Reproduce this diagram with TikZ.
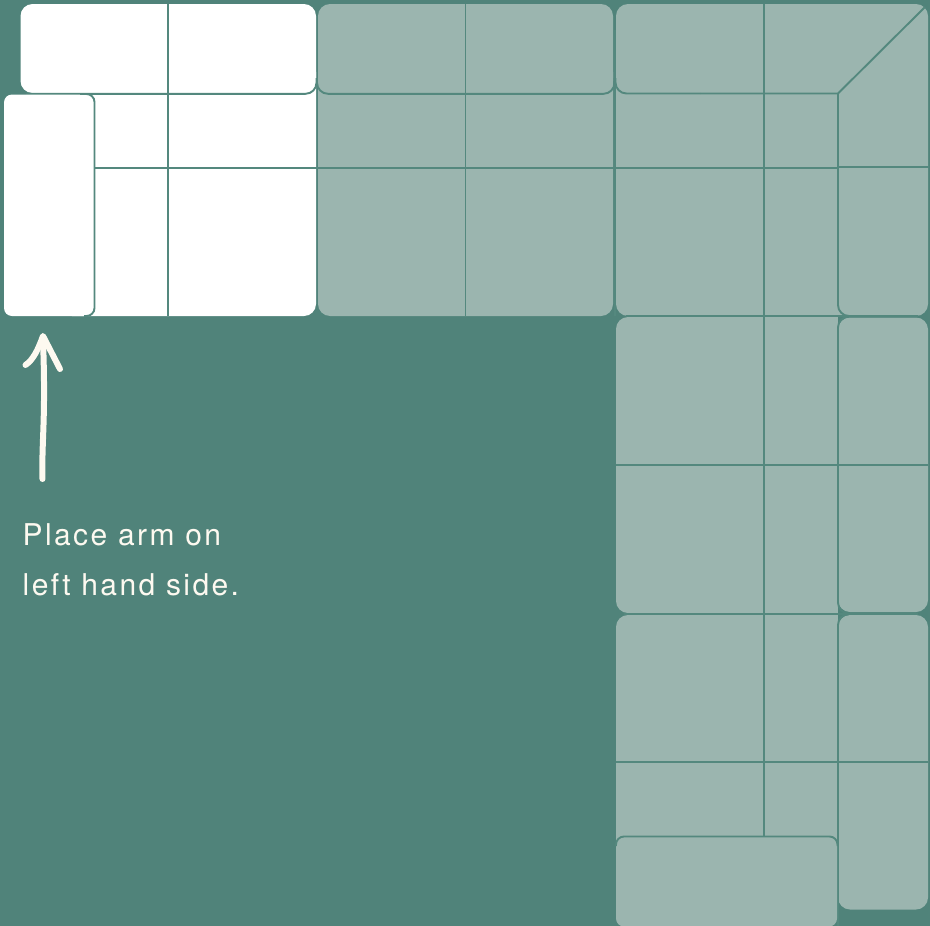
\documentclass[tikz,border=0pt]{standalone}
\usepackage{fontspec}
\setmainfont{TeX Gyre Heros}
\usetikzlibrary{arrows.meta, positioning}
\definecolor{basegreen}{RGB}{80, 131, 122}
\definecolor{seamgreen}{RGB}{84, 136, 126}
\definecolor{softgreen}{RGB}{155, 181, 175}
\definecolor{creamline}{RGB}{253, 249, 240}
\tikzset{
  cushion/.style={rounded corners=12pt},
  armrest/.style={rounded corners=8pt},
  seam/.style={draw=seamgreen, line width=1.9pt},
  curveseam/.style={seam, rounded corners=11pt},
  penline/.style={creamline, line width=6pt, line cap=round, line join=round},
  caption/.style={font=\fontsize{30}{50}\selectfont\addfontfeatures{LetterSpace=8}, text=creamline, inner sep=0pt, anchor=base west}
}
\begin{document}
\begin{tikzpicture}[x=1pt, y=-1pt]
\useasboundingbox (0,0) rectangle (930,926);
\fill[basegreen] (0,0) rectangle (930,926);
% placed module
\fill[white, cushion] (60,60) rectangle (316,316);
\fill[white] (60,60) rectangle (200,316);
\fill[white] (200,60) rectangle (316,200);
\fill[white, cushion] (20.5,4) rectangle (316,93);
\draw[curveseam] (26,93.8) -- (316.5,93.8) -- (316.5,78);
\fill[white, armrest] (4,94.5) rectangle (93.5,316);
\draw[seam, rounded corners=8pt] (80,94) -- (94.5,94) -- (94.5,316) -- (84,316);
\draw[seam] (168,4) -- (168,316);
\draw[seam] (94,168) -- (317,168);
% middle module
\fill[softgreen, cushion] (318,60) rectangle (613,316);
\fill[softgreen] (318,60) rectangle (613,200);
\fill[softgreen, cushion] (318,4) rectangle (613,93);
\draw[curveseam] (317,78) -- (317,93.8) -- (614.5,93.8) -- (614.5,78);
\draw[seam] (465.5,4) -- (465.5,316);
\draw[seam] (317,168) -- (615,168);
\draw[seam] (614.8,30) -- (614.8,316);
% corner module
\fill[softgreen, cushion] (616,4) rectangle (928,316);
\draw[curveseam] (615.5,78) -- (615.5,93.5) -- (700,93.5);
\draw[seam] (700,93.5) -- (838,93.5) -- (925,7);
\draw[curveseam] (838,93.5) -- (838,316) -- (918,316);
\draw[seam] (764,4) -- (764,316);
\draw[seam] (616,168) -- (838,168);
\draw[seam] (838,167) -- (928.5,167);
\draw[seam] (626,316) -- (850,316);
% run of seats
\fill[softgreen, cushion] (616,317) rectangle (838,613);
\fill[softgreen] (700,317) rectangle (838,613);
\fill[softgreen, cushion] (838,317.5) rectangle (928,612);
\draw[curveseam] (918,316.5) -- (838,316.5) -- (838,613.5) -- (918,613.5);
\draw[seam] (764,317) -- (764,614);
\draw[seam] (616,465) -- (928,465);
\draw[seam] (624,613.6) -- (848,613.6);
% end of run
\fill[softgreen, cushion] (616,615) rectangle (700,860);
\fill[softgreen] (650,615) rectangle (838,860);
\fill[softgreen] (616,640) rectangle (838,860);
\fill[softgreen, cushion] (838,615) rectangle (928,909.5);
\draw[curveseam] (918,614) -- (838,614) -- (838,926);
\fill[softgreen, armrest] (616,836.5) rectangle (837,926.5);
\draw[seam, rounded corners=8pt] (616,846) -- (616,836.5) -- (837.5,836.5) -- (837.5,846);
\draw[seam] (764,615) -- (764,836);
\draw[seam] (616,762) -- (928,762);
% note
\coordinate (tailend) at (42.5,479);
\coordinate (headend) at (43,336);
\draw[penline] (tailend) .. controls (41.5,440) and (46,420) .. (43,340);
\draw[penline] (25.5,365) .. controls (33,360) and (38,350) .. (headend) -- (60,369);
\node[caption] (note) at (22.5,545) {Place arm on};
\node[caption, below=50pt of note.base west, anchor=base west] (notetwo) {left hand side.};
\end{tikzpicture}
\end{document}
